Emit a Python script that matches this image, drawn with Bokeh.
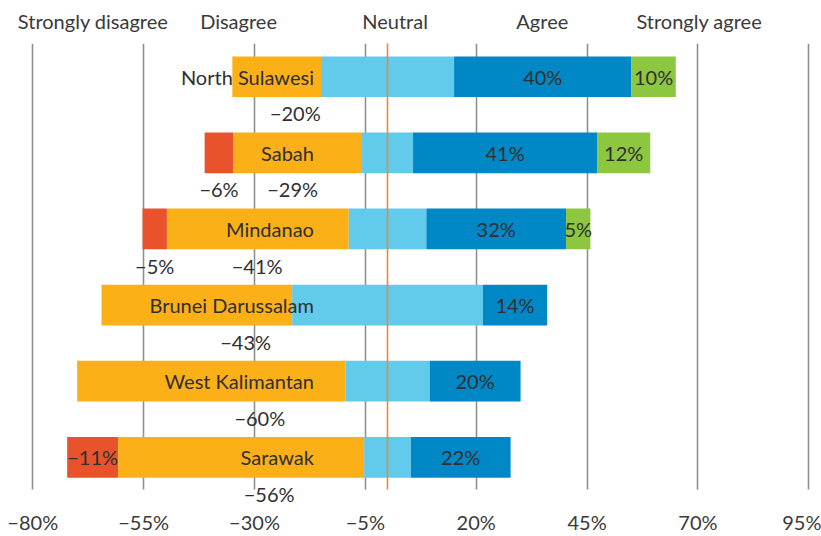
from bokeh.plotting import figure
from bokeh.models import ColumnDataSource, FixedTicker, LinearAxis, Grid, Range1d
from bokeh.core.properties import value
from bokeh.embed import file_html
from bokeh.resources import INLINE

# ---------------- data ----------------
regions = ["North Sulawesi", "Sabah", "Mindanao", "Brunei Darussalam", "West Kalimantan", "Sarawak"]
strongly_disagree = [0, 6.5, 5.5, 0, 0, 11.5]
disagree = [20, 29, 41, 43, 60.5, 55.5]
neutral = [30, 11.5, 17.5, 43, 19, 10.5]
agree = [40, 41.5, 31.5, 14.5, 20.5, 22.5]
strongly_agree = [10, 12, 5.5, 0, 0, 0]

sd_labels = ["", "−6%", "−5%", "", "", "−11%"]
d_labels = ["−20%", "−29%", "−41%", "−43%", "−60%", "−56%"]
a_labels = ["40%", "41%", "32%", "14%", "20%", "22%"]
sa_labels = ["10%", "12%", "5%", "", "", ""]
sd_label_inside = [False, False, False, False, False, True]

categories = ["Strongly disagree", "Disagree", "Neutral", "Agree", "Strongly agree"]
x_ticks = [-80, -55, -30, -5, 20, 45, 70, 95]
x_tick_labels = ["−80%", "−55%", "−30%", "−5%", "20%", "45%", "70%", "95%"]

# label placement (data units)
header_x = [-66.4, -33.6, 1.7, 34.9, 70.3]
d_label_x = [-20.8, -21.4, -29.4, -32.0, -28.8, -26.7]
name_right_x = -16.6

# ---------------- styles ----------------
FONT = "Lato"
FS = "20px"
TXT = "#2f2f2f"
colors = ["#E9532C", "#FCB017", "#62CAEB", "#0088C6", "#8DC63F"]

n = len(regions)
ypos = [n - 1 - i for i in range(n)]

# stacked extents, neutral centered at zero
n_left = [-v / 2 for v in neutral]
n_right = [v / 2 for v in neutral]
d_left = [a - b for a, b in zip(n_left, disagree)]
sd_left = [a - b for a, b in zip(d_left, strongly_disagree)]
a_right = [a + b for a, b in zip(n_right, agree)]
sa_right = [a + b for a, b in zip(a_right, strongly_agree)]

Y_TOP = 5.437
Y_GRID_BOTTOM = -0.424
p = figure(width=821, height=536, output_backend="svg", toolbar_location=None,
           x_range=Range1d(-87.28, 97.86), y_range=Range1d(-0.607, Y_TOP),
           y_axis_location=None, x_axis_location="below",
           min_border_left=0, min_border_right=0, min_border_top=43, min_border_bottom=30)
p.outline_line_color = None
p.background_fill_color = "white"
p.border_fill_color = "white"
p.ygrid.visible = False

H = 0.535
segs = [(sd_left, d_left), (d_left, n_left), (n_left, n_right), (n_right, a_right), (a_right, sa_right)]
for (l, r), c in zip(segs, colors):
    src = ColumnDataSource(dict(y=ypos, left=l, right=r))
    p.hbar(y="y", left="left", right="right", height=H, source=src,
           fill_color=c, line_color=None)

def add_text(xs, ys, texts, align):
    src = ColumnDataSource(dict(x=xs, y=ys, t=texts))
    p.text(x="x", y="y", text="t", source=src, text_font=value(FONT), text_font_size=FS,
           text_color=TXT, text_align=align, text_baseline="middle")

# region names inside bars
add_text([name_right_x] * n, ypos, regions, "right")

# agree / strongly agree labels at segment centres
add_text([(a + b) / 2 for a, b in zip(n_right, a_right)], ypos, a_labels, "center")
add_text([(a + b) / 2 for a, b in zip(a_right, sa_right)], ypos, sa_labels, "center")

# disagree labels below bars
OFF = 0.48
add_text(d_label_x, [y - OFF for y in ypos], d_labels, "center")

# strongly disagree labels
sd_x = [(a + b) / 2 for a, b in zip(sd_left, d_left)]
sd_y = [y if inside else y - OFF for y, inside in zip(ypos, sd_label_inside)]
add_text(sd_x, sd_y, sd_labels, "center")

# bottom axis
ax = p.xaxis[0]
ax.ticker = FixedTicker(ticks=x_ticks)
ax.major_label_overrides = {t: s for t, s in zip(x_ticks, x_tick_labels)}
ax.axis_line_color = None
ax.major_tick_line_color = None
ax.minor_tick_line_color = None
ax.major_label_standoff = 0
ax.major_label_text_font = FONT
ax.major_label_text_font_size = FS
ax.major_label_text_color = "#3a3a3a"

p.xgrid.ticker = FixedTicker(ticks=x_ticks)
p.xgrid.grid_line_color = "#8f8f8f"
p.xgrid.grid_line_width = 1.6
p.xgrid.cross_bounds = (Y_GRID_BOTTOM, Y_TOP)

# zero reference line, drawn over the bars
p.add_layout(Grid(dimension=0, ticker=FixedTicker(ticks=[0]), grid_line_color="#EF8540",
                  grid_line_width=1.6, cross_bounds=(Y_GRID_BOTTOM, Y_TOP), level="annotation"))

# top header axis
top = LinearAxis(ticker=FixedTicker(ticks=header_x),
                 major_label_overrides={t: s for t, s in zip(header_x, categories)})
top.axis_line_color = None
top.major_tick_line_color = None
top.minor_tick_line_color = None
top.major_label_standoff = 5
top.major_label_text_font = FONT
top.major_label_text_font_size = FS
top.major_label_text_color = "#3a3a3a"
p.add_layout(top, "above")

open("out.html", "w").write(file_html(p, INLINE))
